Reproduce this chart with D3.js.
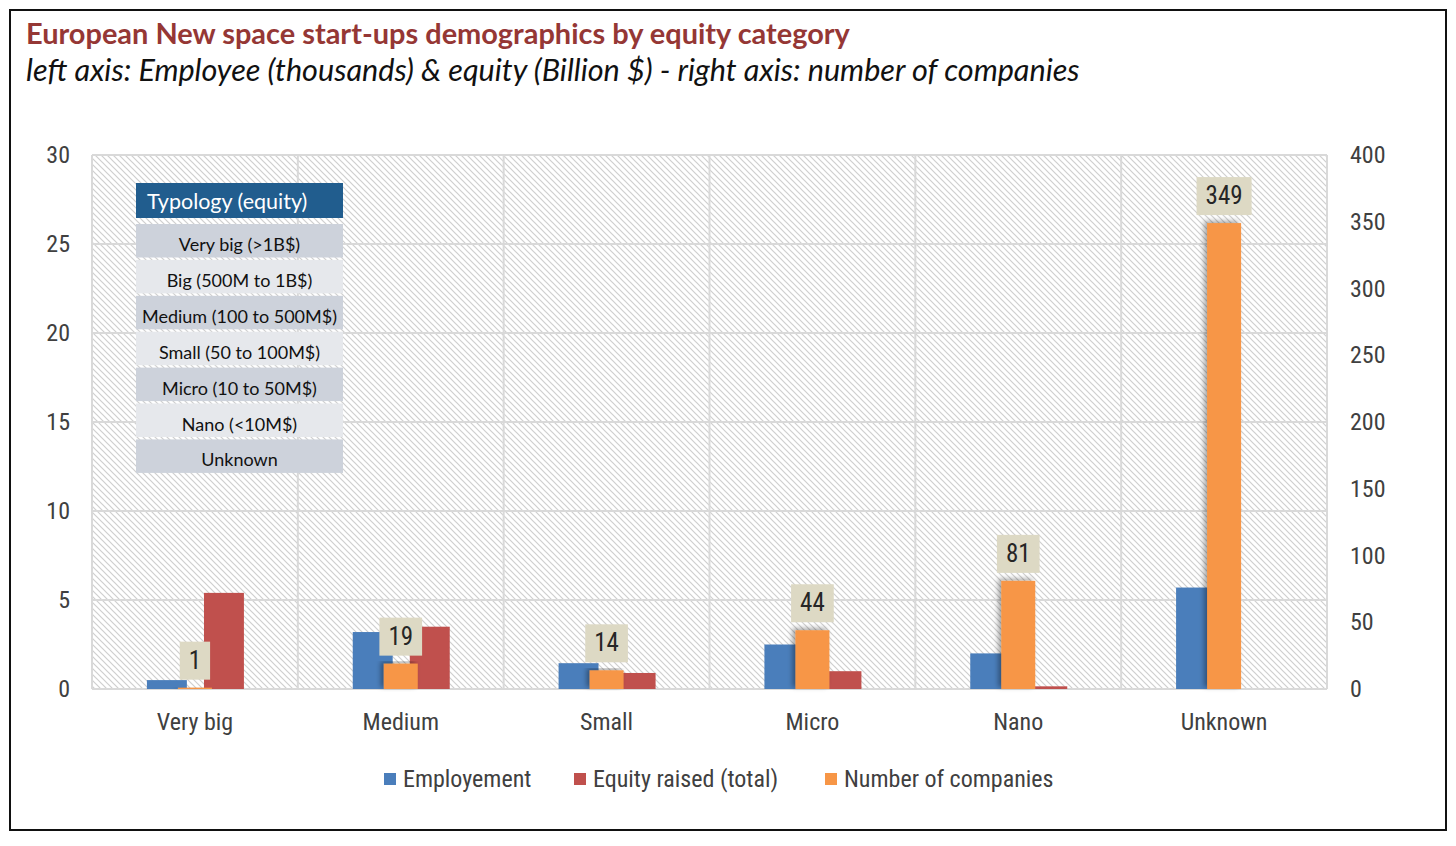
<!DOCTYPE html>
<html>
<head>
<meta charset="utf-8">
<script src="https://cdn.jsdelivr.net/npm/d3@7"></script>
<style>
  body { margin: 0; background: #fff; }
  .cond { font-family: "Roboto Condensed", "Liberation Sans Narrow", "Arial Narrow", Roboto, sans-serif; font-stretch: condensed; }
</style>
</head>
<body>
<div id="chart"></div>
<script>
// values
const categories = ['Very big', 'Medium', 'Small', 'Micro', 'Nano', 'Unknown'];
const employment = [0.5, 3.2, 1.45, 2.5, 2.0, 5.7];      // thousands, left axis
const equity = [5.4, 3.5, 0.9, 1.0, 0.15, 0];             // billion $, left axis
const companies = [1, 19, 14, 44, 81, 349];               // right axis
const leftTicks = [0, 5, 10, 15, 20, 25, 30];
const rightTicks = [0, 50, 100, 150, 200, 250, 300, 350, 400];
const typology = ['Very big (>1B$)', 'Big (500M to 1B$)', 'Medium (100 to 500M$)',
  'Small (50 to 100M$)', 'Micro (10 to 50M$)', 'Nano (<10M$)', 'Unknown'];
const seriesNames = ['Employement', 'Equity raised (total)', 'Number of companies'];
const seriesColors = ['#4a7ebb', '#c0504d', '#f79646'];

const W = 1456, H = 846;
const plot = { left: 92, right: 1327, top: 155, bottom: 689 };

const svg = d3.select('#chart').append('svg')
  .attr('width', W).attr('height', H);

const defs = svg.append('defs');
const pat = defs.append('pattern')
  .attr('id', 'hatch').attr('patternUnits', 'userSpaceOnUse')
  .attr('width', 6).attr('height', 6);
pat.append('rect').attr('width', 6).attr('height', 6).attr('fill', '#fff');
pat.append('path')
  .attr('d', 'M0,0L6,6M-1,5L1,7M5,-1L7,1')
  .attr('stroke', '#cfcfcf').attr('stroke-width', 1.2);

const shadow = defs.append('filter').attr('id', 'shadow')
  .attr('x', '-50%').attr('y', '-10%').attr('width', '200%').attr('height', '120%');
shadow.append('feDropShadow')
  .attr('dx', -3).attr('dy', -2).attr('stdDeviation', 2.5)
  .attr('flood-color', '#000').attr('flood-opacity', 0.35);

// outer frame
svg.append('rect')
  .attr('x', 10).attr('y', 10).attr('width', 1436).attr('height', 820)
  .attr('fill', 'none').attr('stroke', '#111').attr('stroke-width', 2);

// titles
function fitText(sel, width) {
  const len = sel.node().getComputedTextLength();
  const fs = parseFloat(sel.attr('font-size'));
  sel.attr('font-size', fs * width / len);
}
const title = svg.append('text')
  .attr('x', 26).attr('y', 44)
  .attr('font-family', 'Lato, "Open Sans", sans-serif')
  .attr('font-weight', 'bold').attr('font-size', 28)
  .attr('fill', '#953735')
  .text('European New space start-ups demographics by equity category');
fitText(title, 824);

const subtitle = svg.append('text')
  .attr('x', 26).attr('y', 81)
  .attr('font-family', 'Lato, "Open Sans", sans-serif')
  .attr('font-style', 'italic').attr('font-size', 28)
  .attr('fill', '#111')
  .text('left axis: Employee (thousands) & equity (Billion $) - right axis: number of companies');
fitText(subtitle, 1054);

// scales
const x0 = d3.scaleBand().domain(categories).range([plot.left, plot.right]);
const bw = x0.bandwidth();
const xIn = d3.scaleBand().domain(['emp', 'eq'])
  .range([bw / 2 - 48, bw / 2 + 49]).paddingInner(0.3);
const orangeW = 34;
const yL = d3.scaleLinear().domain([0, 30]).range([plot.bottom, plot.top]);
const yR = d3.scaleLinear().domain([0, 400]).range([plot.bottom, plot.top]);

// plot background
svg.append('rect')
  .attr('x', plot.left).attr('y', plot.top)
  .attr('width', plot.right - plot.left).attr('height', plot.bottom - plot.top)
  .attr('fill', 'url(#hatch)');

// grid
const grid = svg.append('g').attr('stroke', '#d9d9d9').attr('stroke-width', 2);
grid.selectAll('.h').data(leftTicks).enter().append('line')
  .attr('x1', plot.left).attr('x2', plot.right)
  .attr('y1', d => yL(d)).attr('y2', d => yL(d));
grid.selectAll('.v').data(categories.concat(['end'])).enter().append('line')
  .attr('x1', d => d === 'end' ? plot.right : x0(d))
  .attr('x2', d => d === 'end' ? plot.right : x0(d))
  .attr('y1', plot.top).attr('y2', plot.bottom);

// bars
const rows = categories.map((c, i) => ({ c, emp: employment[i], eq: equity[i], n: companies[i] }));

svg.append('g').selectAll('rect').data(rows).enter().append('rect')
  .attr('x', d => x0(d.c) + xIn('emp'))
  .attr('width', xIn.bandwidth())
  .attr('y', d => yL(d.emp))
  .attr('height', d => yL(0) - yL(d.emp))
  .attr('fill', seriesColors[0]);

svg.append('g').selectAll('rect').data(rows).enter().append('rect')
  .attr('x', d => x0(d.c) + xIn('eq'))
  .attr('width', xIn.bandwidth())
  .attr('y', d => yL(d.eq))
  .attr('height', d => yL(0) - yL(d.eq))
  .attr('fill', seriesColors[1]);

svg.append('g').selectAll('rect').data(rows).enter().append('rect')
  .attr('x', d => x0(d.c) + bw / 2 - orangeW / 2)
  .attr('width', orangeW)
  .attr('y', d => yR(d.n))
  .attr('height', d => yR(0) - yR(d.n))
  .attr('fill', seriesColors[2])
  .attr('filter', 'url(#shadow)');

// data labels for number of companies
const lab = svg.append('g').selectAll('g').data(rows).enter().append('g');
lab.append('text')
  .attr('class', 'cond')
  .attr('x', d => x0(d.c) + bw / 2)
  .attr('y', d => yR(d.n) - 8 - 11)
  .attr('text-anchor', 'middle')
  .attr('font-size', 25).attr('fill', '#262626')
  .text(d => d.n);
lab.each(function () {
  const g = d3.select(this);
  const t = g.select('text');
  const bb = t.node().getBBox();
  const cx = +t.attr('x');
  const w = bb.width + 18;
  const bottom = +t.attr('y') + 11;
  g.insert('rect', 'text')
    .attr('x', cx - w / 2).attr('y', bottom - 38)
    .attr('width', w).attr('height', 38)
    .attr('fill', '#ddd9c4');
});

// axes
const axisText = sel => sel.selectAll('text')
  .attr('class', 'cond').attr('font-size', 24).attr('fill', '#404040');

svg.append('g')
  .attr('transform', `translate(${plot.left},0)`)
  .call(d3.axisLeft(yL).tickValues(leftTicks).tickSize(0).tickPadding(22))
  .call(g => g.select('.domain').remove())
  .call(axisText);

svg.append('g')
  .attr('transform', `translate(${plot.right},0)`)
  .call(d3.axisRight(yR).tickValues(rightTicks).tickSize(0).tickPadding(23))
  .call(g => g.select('.domain').remove())
  .call(axisText);

svg.append('g')
  .attr('transform', `translate(0,${plot.bottom})`)
  .call(d3.axisBottom(x0).tickSize(0).tickPadding(24))
  .call(g => g.select('.domain').remove())
  .call(axisText);

// typology table
const tbl = svg.append('g').attr('transform', 'translate(136,183)');
tbl.append('rect').attr('width', 207).attr('height', 35).attr('fill', '#215d8e');
tbl.append('text')
  .attr('x', 11).attr('y', 26)
  .attr('font-family', 'Lato, "Open Sans", sans-serif')
  .attr('font-size', 21.5).attr('fill', '#fff')
  .text('Typology (equity)');
const trow = tbl.selectAll('.row').data(typology).enter().append('g')
  .attr('transform', (d, i) => `translate(0,${41 + i * 35.9})`);
trow.append('rect')
  .attr('width', 207).attr('height', 33.5)
  .attr('fill', (d, i) => i % 2 === 0 ? '#cdd2db' : '#e6e8ec');
trow.append('text')
  .attr('x', 103.5).attr('y', 27)
  .attr('text-anchor', 'middle')
  .attr('font-family', 'Lato, "Open Sans", sans-serif')
  .attr('font-size', 18).attr('fill', '#111')
  .text(d => d);

// legend
const legX = [384, 574, 825];
const leg = svg.append('g').selectAll('g').data(seriesNames).enter().append('g')
  .attr('transform', (d, i) => `translate(${legX[i]},0)`);
leg.append('rect')
  .attr('x', 0).attr('y', 773).attr('width', 12).attr('height', 12)
  .attr('fill', (d, i) => seriesColors[i]);
leg.append('text')
  .attr('class', 'cond')
  .attr('x', 19).attr('y', 787)
  .attr('font-size', 24).attr('fill', '#404040')
  .text(d => d);
</script>
</body>
</html>
